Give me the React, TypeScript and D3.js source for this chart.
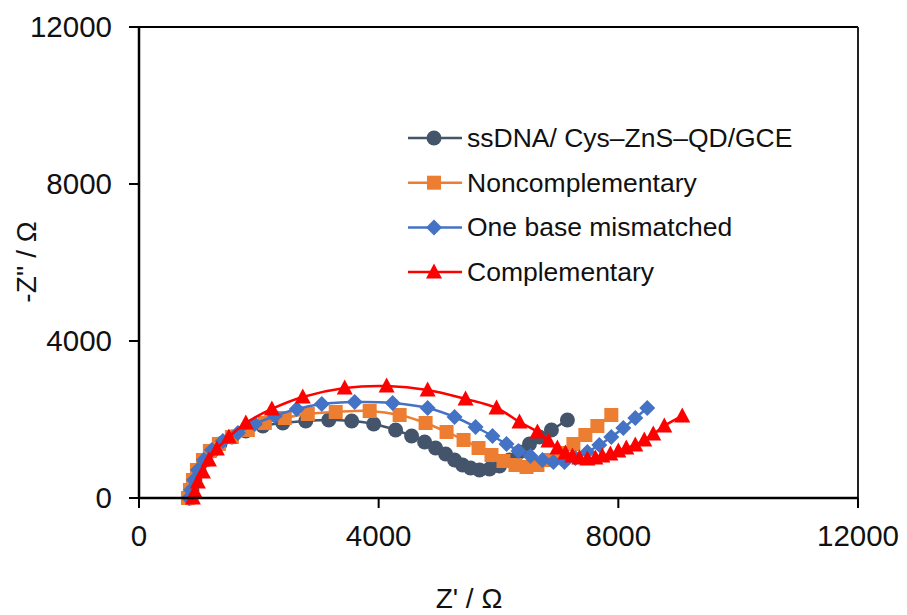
import React from 'react';
import * as d3 from 'd3';

type Pt = [number, number];

// Z' (ohm), -Z'' (ohm)
const ssDna: Pt[] = [
  [850, 0], [883, 204], [933, 459], [1000, 713], [1100, 968], [1217, 1198], [1350, 1376],
  [1550, 1554], [1783, 1707], [2067, 1835], [2400, 1911], [2783, 1962], [3167, 1987],
  [3550, 1962], [3917, 1886], [4283, 1733], [4550, 1580], [4767, 1427], [4950, 1274],
  [5117, 1121], [5267, 968], [5400, 841], [5533, 764], [5683, 713], [5850, 739],
  [6017, 815], [6183, 968], [6350, 1172], [6517, 1376], [6683, 1554], [6883, 1733], [7150, 1987]
];

const nonComp: Pt[] = [
  [817, 0], [850, 204], [900, 459], [967, 713], [1067, 968], [1183, 1198], [1333, 1376],
  [1550, 1554], [1817, 1733], [2100, 1911], [2433, 2038], [2817, 2140], [3283, 2191],
  [3850, 2217], [4350, 2115], [4783, 1911], [5133, 1682], [5417, 1478], [5667, 1274],
  [5883, 1096], [6083, 943], [6283, 841], [6467, 790], [6650, 841], [6850, 968],
  [7050, 1147], [7250, 1376], [7450, 1605], [7650, 1835], [7883, 2115]
];

const oneBase: Pt[] = [
  [833, 0], [867, 204], [917, 459], [983, 713], [1083, 968], [1217, 1223], [1400, 1452],
  [1650, 1656], [1933, 1886], [2267, 2090], [2633, 2268], [3050, 2395], [3600, 2446],
  [4233, 2421], [4817, 2293], [5267, 2064], [5617, 1809], [5900, 1580], [6133, 1376],
  [6333, 1198], [6533, 1070], [6733, 968], [6917, 917], [7100, 917], [7283, 1019],
  [7483, 1172], [7683, 1350], [7883, 1554], [8083, 1783], [8283, 2038], [8483, 2293]
];

const comp: Pt[] = [
  [900, 0], [933, 153], [983, 408], [1067, 662], [1167, 968], [1300, 1248], [1500, 1554],
  [1783, 1911], [2217, 2268], [2733, 2573], [3433, 2803], [4133, 2854], [4817, 2752],
  [5450, 2522], [5967, 2293], [6350, 1936], [6650, 1682], [6833, 1452], [6983, 1274],
  [7117, 1147], [7233, 1070], [7350, 1019], [7483, 994], [7617, 1019], [7733, 1070],
  [7867, 1121], [8000, 1198], [8133, 1274], [8283, 1350], [8433, 1478], [8583, 1631],
  [8767, 1835], [9067, 2090]
];

const seriesNames = ['ssDNA/ Cys\u2013ZnS\u2013QD/GCE', 'Noncomplementary', 'One base mismatched', 'Complementary'];
const seriesData = [ssDna, nonComp, oneBase, comp];
const seriesColors = ['#44546A', '#ED7D31', '#4472C4', '#FF0000'];
const markerShapes = ['circle', 'square', 'diamond', 'triangle'];

const xTicks = [0, 4000, 8000, 12000];
const yTicks = [0, 4000, 8000, 12000];

const W = 907;
const H = 615;
const font = 'Arial, "Liberation Sans", sans-serif';

function Marker({ shape, x, y, color }: { shape: string; x: number; y: number; color: string }) {
  if (shape === 'circle') return <circle cx={x} cy={y} r={7.5} fill={color} />;
  if (shape === 'square') return <rect x={x - 7} y={y - 7} width={14} height={14} fill={color} />;
  if (shape === 'diamond')
    return <path d={`M${x},${y - 8}L${x + 8},${y}L${x},${y + 8}L${x - 8},${y}Z`} fill={color} />;
  return <path d={`M${x},${y - 8.5}L${x + 8},${y + 6.5}L${x - 8},${y + 6.5}Z`} fill={color} />;
}

export default function App() {
  const x = d3.scaleLinear().domain([0, 12000]).range([139, 858]);
  const y = d3.scaleLinear().domain([0, 12000]).range([498, 27]);

  const line = d3.line<Pt>()
    .x(d => x(d[0]))
    .y(d => y(d[1]))
    .curve(d3.curveCatmullRom.alpha(0.5));

  const legendY = (i: number) => 138 + i * 44.7;

  return (
    <div style={{ position: 'absolute', left: 0, top: 0 }}>
      <svg width={W} height={H} style={{ fontFamily: font, display: 'block' }}>
        <rect width={W} height={H} fill="#fff" />

        {/* plot border */}
        <line x1={x(0)} y1={y(12000)} x2={x(12000)} y2={y(12000)} stroke="#000" strokeWidth={2} />
        <line x1={x(12000)} y1={y(12000)} x2={x(12000)} y2={y(0)} stroke="#222" strokeWidth={2} />

        {/* series */}
        {seriesData.map((s, i) => (
          <g key={seriesNames[i]}>
            <path d={line(s) ?? ''} fill="none" stroke={seriesColors[i]} strokeWidth={2.5} />
            {s.map((d, j) => (
              <Marker key={j} shape={markerShapes[i]} x={x(d[0])} y={y(d[1])} color={seriesColors[i]} />
            ))}
          </g>
        ))}

        {/* axes */}
        <line x1={x(0)} y1={y(0)} x2={x(12000)} y2={y(0)} stroke="#000" strokeWidth={2.5} />
        <line x1={x(0)} y1={y(0)} x2={x(0)} y2={y(12000)} stroke="#000" strokeWidth={2.5} />

        {xTicks.map(t => (
          <g key={`x${t}`}>
            <line x1={x(t)} x2={x(t)} y1={y(0)} y2={y(0) + 10} stroke="#000" strokeWidth={2} />
            <text x={x(t)} y={y(0) + 48} textAnchor="middle" fontSize={29.5} fill="#111">{t}</text>
          </g>
        ))}
        {yTicks.map(t => (
          <g key={`y${t}`}>
            <line x1={x(0) - 10} x2={x(0)} y1={y(t)} y2={y(t)} stroke="#000" strokeWidth={2} />
            <text x={112} y={y(t) + 10} textAnchor="end" fontSize={29.5} fill="#111">{t}</text>
          </g>
        ))}

        <text x={469} y={608} textAnchor="middle" fontSize={28} fill="#111">Z' / Ω</text>
        <text transform={`translate(36, 262) rotate(-90)`} textAnchor="middle" fontSize={28} fill="#111">-Z'' / Ω</text>

        {/* legend */}
        {seriesNames.map((name, i) => (
          <g key={`lg${i}`}>
            <line x1={408} x2={462} y1={legendY(i)} y2={legendY(i)} stroke={seriesColors[i]} strokeWidth={2.5} />
            <Marker shape={markerShapes[i]} x={434} y={legendY(i)} color={seriesColors[i]} />
            <text x={467} y={legendY(i) + 9} fontSize={26.5} fill="#111">{name}</text>
          </g>
        ))}
      </svg>
    </div>
  );
}
